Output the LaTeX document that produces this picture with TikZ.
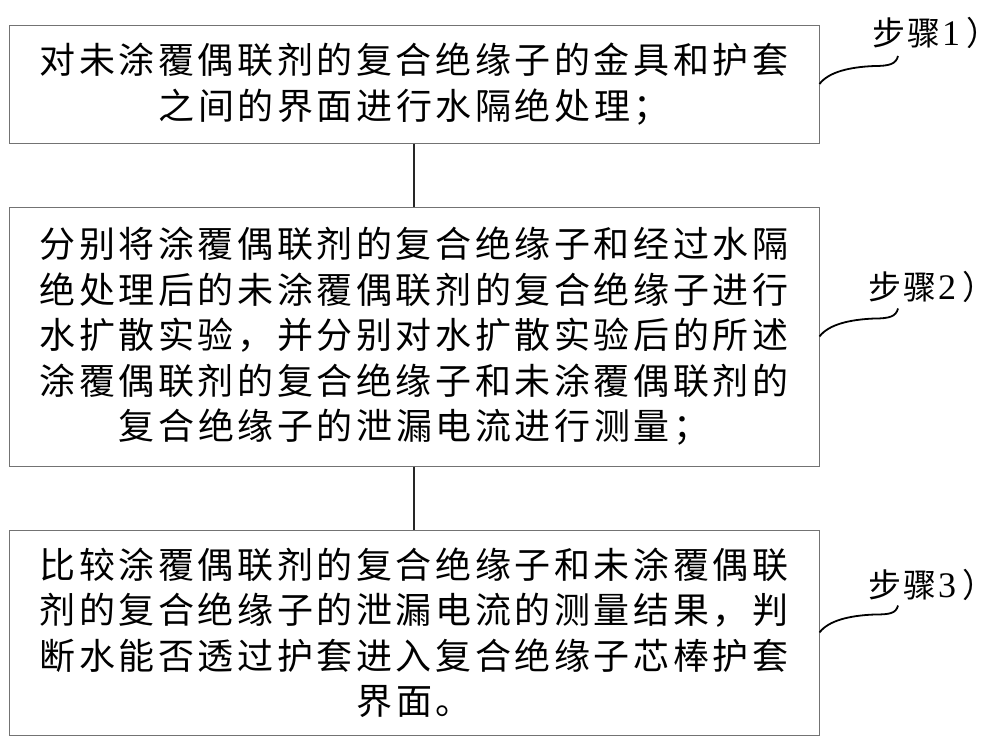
\documentclass[tikz,border=0pt]{standalone}
\usepackage{fontspec}
\setmainfont{Noto Sans CJK SC}[LetterSpace=10]
\newfontfamily\labfont{Noto Sans CJK SC}[LetterSpace=6]
\newfontfamily\latfont{Liberation Serif}
\tikzset{
  stepbox/.style={draw=black!55, line width=1pt, inner sep=0pt, minimum width=810pt,
    align=center, font=\fontsize{36pt}{45.5pt}\selectfont, text=black},
  link/.style={draw=black!85, line width=1.3pt},
  brace/.style={draw=black, line width=1.8pt},
  steplabel/.style={font=\labfont\fontsize{33pt}{38pt}\selectfont, inner sep=0pt}
}
\newcommand{\steptext}[1]{步骤\hspace{2pt}{\latfont\fontsize{36pt}{38pt}\selectfont #1}\hspace{6pt}）}
\begin{document}
\begin{tikzpicture}[x=1pt,y=-1pt]
\useasboundingbox (0,0) rectangle (1000,744);
\node[stepbox, minimum height=118pt] (b1) at (414,84)
  {对未涂覆偶联剂的复合绝缘子的金具和护套\\之间的界面进行水隔绝处理；};
\node[stepbox, minimum height=259pt] (b2) at (414,336.5)
  {分别将涂覆偶联剂的复合绝缘子和经过水隔\\绝处理后的未涂覆偶联剂的复合绝缘子进行\\水扩散实验，并分别对水扩散实验后的所述\\涂覆偶联剂的复合绝缘子和未涂覆偶联剂的\\复合绝缘子的泄漏电流进行测量；};
\node[stepbox, minimum height=205pt] (b3) at (414,632.5)
  {比较涂覆偶联剂的复合绝缘子和未涂覆偶联\\剂的复合绝缘子的泄漏电流的测量结果，判\\断水能否透过护套进入复合绝缘子芯棒护套\\界面。};
\draw[link] (b1.south) -- (b2.north);
\draw[link] (b2.south) -- (b3.north);
\node[steplabel, anchor=west] (l1) at (872,33) {\steptext{1}};
\node[steplabel, anchor=west] (l2) at (868,287) {\steptext{2}};
\node[steplabel, anchor=west] (l3) at (868,585) {\steptext{3}};
\coordinate (e1) at (898,56);
\coordinate (e2) at (898,308.5);
\coordinate (e3) at (898,605.5);
\draw[brace] (b1.east) .. controls +(9,-12) and +(-25,1) .. ++(55,-18) .. controls +(15,0) and +(-2,8) .. (e1);
\draw[brace] (b2.east) .. controls +(9,-12) and +(-25,1) .. ++(55,-18) .. controls +(15,0) and +(-2,8) .. (e2);
\draw[brace] (b3.east) .. controls +(9,-12) and +(-25,1) .. ++(55,-18) .. controls +(15,0) and +(-2,8) .. (e3);
\end{tikzpicture}
\end{document}
